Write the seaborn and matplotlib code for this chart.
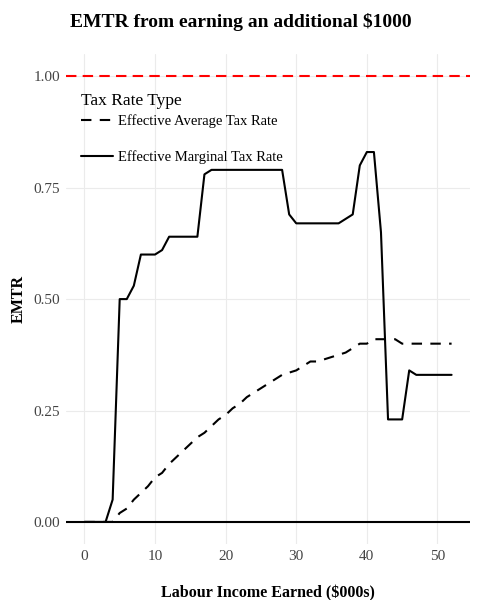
import numpy as np
import pandas as pd
import matplotlib
matplotlib.use("Agg")
import matplotlib.pyplot as plt
import seaborn as sns

# income in $000s
income = list(range(0, 53))

# effective marginal tax rate
emtr_marginal = [0, 0, 0, 0, 0.05, 0.50, 0.50, 0.53, 0.60, 0.60,
                 0.60, 0.61, 0.64, 0.64, 0.64, 0.64, 0.64, 0.78, 0.79, 0.79,
                 0.79, 0.79, 0.79, 0.79, 0.79, 0.79, 0.79, 0.79, 0.79, 0.69,
                 0.67, 0.67, 0.67, 0.67, 0.67, 0.67, 0.67, 0.68, 0.69, 0.80,
                 0.83, 0.83, 0.65, 0.23, 0.23, 0.23, 0.34, 0.33, 0.33, 0.33,
                 0.33, 0.33, 0.33]

# effective average tax rate
emtr_average = [0, 0, 0, 0, 0.0, 0.02, 0.03, 0.05, 0.065, 0.08,
                0.10, 0.11, 0.13, 0.145, 0.16, 0.175, 0.19, 0.20, 0.215, 0.23,
                0.24, 0.255, 0.265, 0.28, 0.29, 0.30, 0.31, 0.32, 0.33, 0.335,
                0.34, 0.35, 0.36, 0.36, 0.365, 0.37, 0.375, 0.38, 0.39, 0.40,
                0.40, 0.41, 0.41, 0.41, 0.41, 0.40, 0.40, 0.40, 0.40, 0.40,
                0.40, 0.40, 0.40]

rate_types = ["Effective Average Tax Rate", "Effective Marginal Tax Rate"]

df = pd.DataFrame({
    "income": income * 2,
    "EMTR": emtr_average + emtr_marginal,
    "Tax Rate Type": [rate_types[0]] * len(income) + [rate_types[1]] * len(income),
})

sns.set_theme(style="whitegrid")
plt.rcParams["font.family"] = ["Liberation Serif", "DejaVu Serif"]
plt.rcParams["text.color"] = "black"
plt.rcParams["axes.labelcolor"] = "black"

fig = plt.figure(figsize=(4.82, 6.0), dpi=100)
ax = fig.add_axes([0.137, 0.093, 0.838, 0.817])

ax.axhline(1.0, color="red", linestyle=(0, (5, 3)), linewidth=1.5, zorder=1)
ax.axhline(0.0, color="black", linewidth=1.5, zorder=1)

sns.lineplot(data=df, x="income", y="EMTR", style="Tax Rate Type",
             style_order=rate_types,
             dashes={rate_types[0]: (5, 4), rate_types[1]: ""},
             color="black", linewidth=1.5, ax=ax, zorder=3)

ax.set_xlim(-2.6, 54.6)
ax.set_ylim(-0.05, 1.05)
ax.set_xticks([0, 10, 20, 30, 40, 50])
ax.set_yticks([0, 0.25, 0.5, 0.75, 1.0])
ax.set_yticklabels(["0.00", "0.25", "0.50", "0.75", "1.00"])
ax.tick_params(axis="both", labelsize=11, colors="#444444", length=3, pad=1)
ax.grid(color="#ebebeb", linewidth=0.8)
for s in ax.spines.values():
    s.set_visible(False)

ax.set_xlabel("Labour Income Earned ($000s)", fontsize=11.5, fontweight="bold",
              labelpad=16)
ax.set_ylabel("EMTR", fontsize=11.5, fontweight="bold", labelpad=5)
fig.suptitle("EMTR from earning an additional $1000", fontsize=14,
             fontweight="bold", y=0.978)

leg = ax.legend(title="Tax Rate Type", loc="upper left",
                bbox_to_anchor=(0.005, 0.948), frameon=False, fontsize=10.5,
                title_fontsize=12.5, handlelength=2.2, labelspacing=1.5,
                handletextpad=0.35)
leg._legend_box.align = "left"
leg._legend_box.sep = 4

fig.savefig("out.png", dpi=100, facecolor="white")
